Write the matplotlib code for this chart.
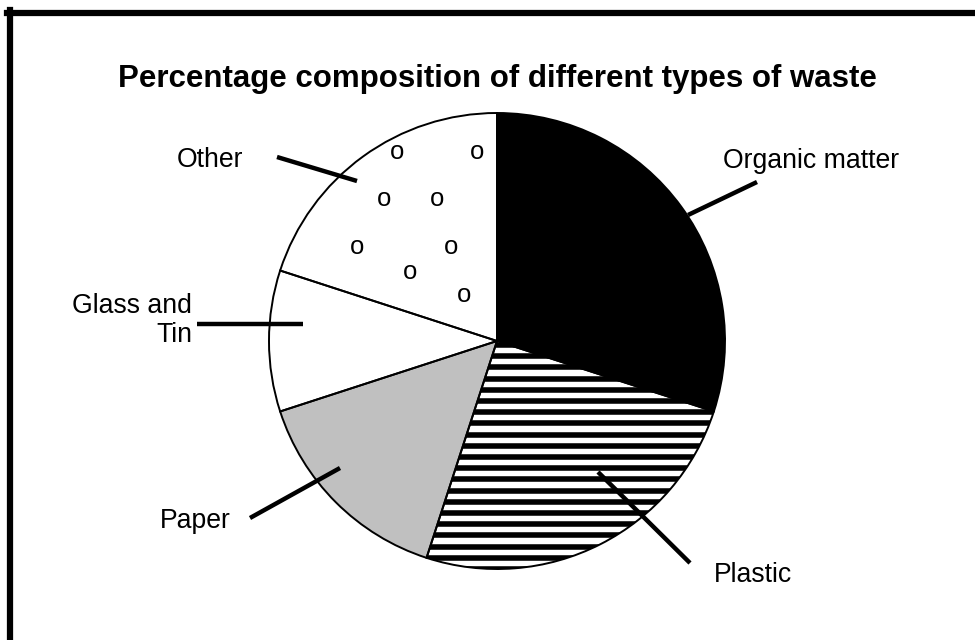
import numpy as np
import matplotlib.pyplot as plt
from matplotlib.lines import Line2D
from matplotlib.patches import Wedge

plt.rcParams['font.family'] = ['Liberation Sans', 'DejaVu Sans']

# datos del grafico
categorias = ['Organic matter', 'Plastic', 'Paper', 'Glass and\nTin', 'Other']
porcentajes = [30, 25, 15, 10, 20]
colores = ['black', 'white', '#c0c0c0', 'white', 'white']
titulo = 'Percentage composition of different types of waste'

W, H = 975, 640
fig = plt.figure(figsize=(W / 100, H / 100), dpi=100)
ax = fig.add_axes([0, 0, 1, 1])

# posicion del pastel (pixeles, y desde abajo)
cx, cy, r = 497, H - 341, 228

wedges, _ = ax.pie(porcentajes, colors=colores, startangle=90, counterclock=False,
                   center=(cx, cy), radius=r, frame=True,
                   wedgeprops=dict(edgecolor='none', linewidth=0))
ax.set_xlim(0, W)
ax.set_ylim(0, H)
ax.set_aspect('equal')
ax.axis('off')

# rayas horizontales del plastico
plastico = wedges[1]
for yy in np.arange(cy - r, cy + 2, 11.2):
    ln, = ax.plot([cx - r, cx + r], [yy, yy], color='black', lw=4.0, solid_capstyle='butt')
    ln.set_clip_path(plastico)

# bordes de las porciones
for w in wedges:
    ax.add_patch(Wedge((cx, cy), r, w.theta1, w.theta2, fill=False,
                       ec='black', lw=1.4, zorder=3))

# patron de "o" en la porcion Other
pos_o = [(397, 152), (477, 152), (384, 199), (437, 199),
         (357, 247), (451, 247), (410, 272), (464, 295)]
for px, py in pos_o:
    ax.text(px, H - py, 'o', fontsize=18.5, ha='center', va='center')

# lineas guia y etiquetas
lineas = [((688, 215), (757, 182)),
          ((598, 472), (690, 563)),
          ((340, 468), (250, 518)),
          ((197, 324), (303, 324)),
          ((277, 157), (357, 181))]
textos = [((723, 168), 'left'),
          ((714, 582), 'left'),
          ((160, 528), 'left'),
          ((192, 342), 'right'),
          ((177, 167), 'left')]
for cat, (p0, p1), ((tx, ty), ha) in zip(categorias, lineas, textos):
    ax.plot([p0[0], p1[0]], [H - p0[1], H - p1[1]], color='black', lw=3.2,
            solid_capstyle='butt', zorder=4)
    ax.text(tx, H - ty, cat, fontsize=19.2, ha=ha, va='baseline',
            multialignment='right', linespacing=1.15)

ax.text(497, H - 79, titulo, fontsize=22.5, fontweight='bold', ha='center', va='center')

# marco
fig.add_artist(Line2D([7 / W, 1], [1 - 13 / H, 1 - 13 / H], color='black', lw=4.5,
                      transform=fig.transFigure))
fig.add_artist(Line2D([10 / W, 10 / W], [0, 1 - 10 / H], color='black', lw=4.5,
                      transform=fig.transFigure))

fig.savefig('out.png', dpi=100, facecolor='white')
